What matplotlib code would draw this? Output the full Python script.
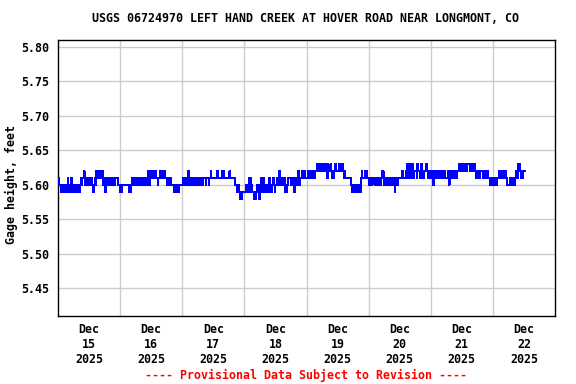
import numpy as np
import pandas as pd
import matplotlib
matplotlib.use('Agg')
import matplotlib.pyplot as plt
import matplotlib.dates as mdates

# 15-minute gage height, one digit per reading: 0 -> 5.58 ft ... 5 -> 5.63 ft
BASE_FT = 5.58
gage_dec15 = ("332221122112221322213221" "121211212123233343232323"
              "323332112324343443434323" "213323232332323233332222")
gage_dec16 = ("121222222222221212323332" "323323332233323332343233"
              "434333433323343443434433" "232233222221211212122222")
gage_dec17 = ("232333233432323223322232" "332333323333233332334333"
              "333334433333334433333333" "343333333322212110100111")
gage_dec18 = ("111211133312111000112110" "223111322112113221122321"
              "223322432233233121223333" "223321332234323334433433")
gage_dec19 = ("333443344433344455445544" "445544553544454433445544"
              "445544554434333333332212" "121212112121343333433433")
gage_dec20 = ("223322333322332233234443" "223322332233223312233233"
              "333343333345434543454344" "443554433544334455443344")
gage_dec21 = ("334423344334433344334433" "334423344433344334455445"
              "554455445555445544554433" "443344443344334433322332")
gage_dec22 = ("223322333344334433443322" "223322332233443545443344" "44")

day_labels = ['Dec\n15\n2025', 'Dec\n16\n2025', 'Dec\n17\n2025', 'Dec\n18\n2025',
              'Dec\n19\n2025', 'Dec\n20\n2025', 'Dec\n21\n2025', 'Dec\n22\n2025']
y_ticks = [5.45, 5.50, 5.55, 5.60, 5.65, 5.70, 5.75, 5.80]

title = 'USGS 06724970 LEFT HAND CREEK AT HOVER ROAD NEAR LONGMONT, CO'
footer = '---- Provisional Data Subject to Revision ----'


def build_series():
    digits = (gage_dec15 + gage_dec16 + gage_dec17 + gage_dec18 +
              gage_dec19 + gage_dec20 + gage_dec21 + gage_dec22)
    values = BASE_FT + np.array([int(c) for c in digits]) * 0.01
    times = pd.date_range('2025-12-15 00:00', periods=len(values), freq='15min')
    return times, values


def plot_gage(save_path='out.png'):
    times, values = build_series()

    font = {'family': 'DejaVu Sans Mono', 'weight': 'bold', 'size': 8.4}

    fig = plt.figure(figsize=(5.76, 3.84), dpi=100)
    ax = fig.add_axes([58 / 576, 1 - 316 / 384, 497 / 576, 276 / 384])

    ax.plot(times, values, color='#0000ff', linewidth=0.72,
            drawstyle='steps-post', antialiased=False, zorder=3)

    # 设置坐标范围
    ax.set_xlim(pd.Timestamp('2025-12-15'), pd.Timestamp('2025-12-23'))
    ax.set_ylim(5.41, 5.81)

    # gridlines at midnight, labels at noon
    midnights = pd.date_range('2025-12-16', '2025-12-22', freq='D')
    noons = pd.date_range('2025-12-15 12:00', periods=len(day_labels), freq='D')
    ax.set_xticks(mdates.date2num(midnights))
    ax.set_xticklabels([])
    ax.set_xticks(mdates.date2num(noons), minor=True)
    ax.set_xticklabels(day_labels, minor=True, **font)
    ax.tick_params(axis='x', which='both', length=0, pad=5)

    ax.set_yticks(y_ticks)
    ax.set_yticklabels([f'{v:.2f}' for v in y_ticks], **font)
    ax.tick_params(axis='y', length=0, pad=6)

    ax.grid(True, which='major', color='#cccccc', linewidth=1.0)
    for sp in ax.spines.values():
        sp.set_linewidth(1.0)
        sp.set_color('black')

    fig.text(306 / 576, 1 - 19 / 384, title, ha='center', va='center', **font)
    fig.text(11 / 576, 1 - 184 / 384, 'Gage height, feet', rotation=90,
             ha='center', va='center', **font)
    fig.text(306 / 576, 1 - 375 / 384, footer, ha='center', va='center',
             color='red', **font)

    fig.savefig(save_path, dpi=100)


if __name__ == "__main__":
    plot_gage('out.png')
